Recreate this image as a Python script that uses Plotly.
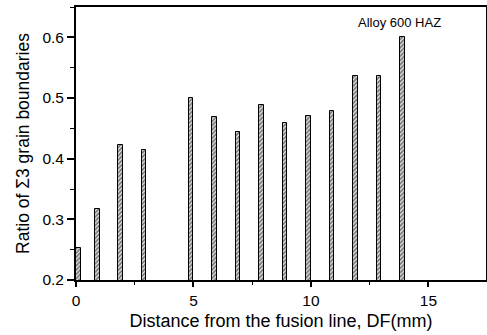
import plotly.graph_objects as go

distance_mm = [0.2, 1, 2, 3, 5, 6, 7, 8, 9, 10, 11, 12, 13, 14]
sigma3_ratio = [0.252, 0.317, 0.423, 0.414, 0.500, 0.468, 0.444, 0.488, 0.458, 0.471, 0.479, 0.536, 0.536, 0.600]
x_ticks = [0, 5, 10, 15]
y_ticks = [0.2, 0.3, 0.4, 0.5, 0.6]

FONT = "Liberation Sans, Arial, sans-serif"

fig = go.Figure()
fig.add_trace(go.Bar(
    x=distance_mm,
    y=sigma3_ratio,
    width=0.2,
    offset=-0.2,
    marker=dict(
        color="white",
        line=dict(color="black", width=1),
        pattern=dict(shape="/", fgcolor="black", bgcolor="white", size=3, solidity=0.7),
    ),
    showlegend=False,
))

fig.add_annotation(
    x=0.895, y=0.942, xref="paper", yref="paper",
    text="Alloy 600 HAZ", showarrow=False, xanchor="right", yanchor="middle",
    font=dict(family=FONT, size=13, color="black"),
)

axis_common = dict(
    showgrid=False, zeroline=False, showline=True, linecolor="black", linewidth=1.8,
    mirror=True, ticks="outside", tickcolor="black", tickwidth=1.5, automargin=False,
    tickfont=dict(family=FONT, size=15.5, color="black"),
)

fig.update_layout(
    width=487, height=335,
    margin=dict(l=76, r=1, t=7, b=55),
    paper_bgcolor="white", plot_bgcolor="white",
    bargap=0,
    xaxis=dict(
        range=[0, 17.45], tickvals=x_ticks, ticklen=5,
        minor=dict(dtick=2.5, tick0=0, ticks="outside", ticklen=3, tickcolor="black", tickwidth=1.2),
        title=dict(text="Distance from the fusion line, DF(mm)", font=dict(family=FONT, size=18, color="black"), standoff=7),
        **axis_common,
    ),
    yaxis=dict(
        range=[0.2, 0.65], tickvals=y_ticks, ticktext=["0.2", "0.3", "0.4", "0.5", "0.6"], ticklen=7,
        minor=dict(dtick=0.05, tick0=0.2, ticks="outside", ticklen=4, tickcolor="black", tickwidth=1.2),
        title=dict(text="Ratio of Σ3 grain boundaries", font=dict(family=FONT, size=17.5, color="black"), standoff=8),
        **axis_common,
    ),
)

fig.write_html(
    "out.html",
    config={"displayModeBar": False},
    post_script="document.body.style.margin='0';document.body.style.overflow='hidden';",
)
